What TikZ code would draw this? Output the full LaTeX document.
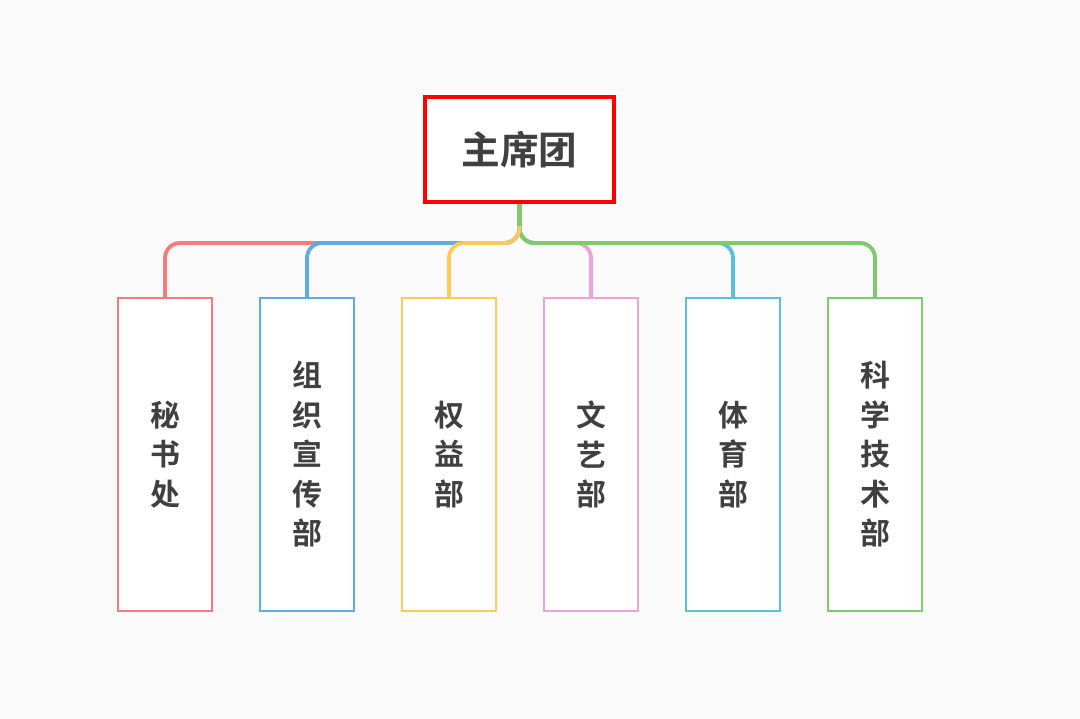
\documentclass[tikz,border=0pt]{standalone}
\usepackage{fontspec}
\newfontfamily\cjk{Noto Sans CJK SC Bold}
\usetikzlibrary{positioning}
\definecolor{bg}{HTML}{FAFAFA}
\definecolor{txt}{HTML}{404040}
\definecolor{cA}{HTML}{F47C7C}
\definecolor{cB}{HTML}{5DADE2}
\definecolor{cC}{HTML}{FFC95C}
\definecolor{cD}{HTML}{F0A0DC}
\definecolor{cE}{HTML}{5BC0DE}
\definecolor{cF}{HTML}{7DCB6A}
\tikzset{
  dept/.style={draw=#1, line width=1.4pt, fill=white, minimum width=1.88cm,
    minimum height=6.26cm, align=center, font=\cjk\fontsize{17}{22.5}\selectfont,
    text=txt},
  link/.style={draw=#1, line width=2.2pt, rounded corners=0.3cm}
}
\begin{document}
\begin{tikzpicture}[x=0.02cm,y=-0.02cm]
\fill[bg] (0,0) rectangle (1080,719);
\node[draw=red, line width=2.4pt, fill=white, minimum width=3.78cm, minimum height=2.1cm,
  font=\cjk\fontsize{22}{26}\selectfont, text=txt] (root) at (519.5,149.5) {主席团};
\node[dept=cA] (mishu)   at (165,454.5) {秘\\书\\处};
\node[dept=cB] (zuzhi)   at (307,454.5) {组\\织\\宣\\传\\部};
\node[dept=cC] (quanyi)  at (449,454.5) {权\\益\\部};
\node[dept=cD] (wenyi)   at (591,454.5) {文\\艺\\部};
\node[dept=cE] (tiyu)    at (733,454.5) {体\\育\\部};
\node[dept=cF] (kexue)   at (875,454.5) {科\\学\\技\\术\\部};
\coordinate (bus) at (519.5,243);
% branches
\draw[link=cD] (root.south) -- (bus) -| (wenyi.north);
\draw[link=cE] (root.south) -- (bus) -| (tiyu.north);
\draw[link=cF] (root.south) -- (bus) -| (kexue.north);
\draw[link=cA] (root.south) -- (bus) -| (mishu.north);
\draw[link=cB] (root.south) -- (bus) -| (zuzhi.north);
\draw[link=cC] (root.south) -- (bus) -| (quanyi.north);
\draw[cF, line width=3.4pt] (root.south) -- ++(0,22);
\end{tikzpicture}
\end{document}
